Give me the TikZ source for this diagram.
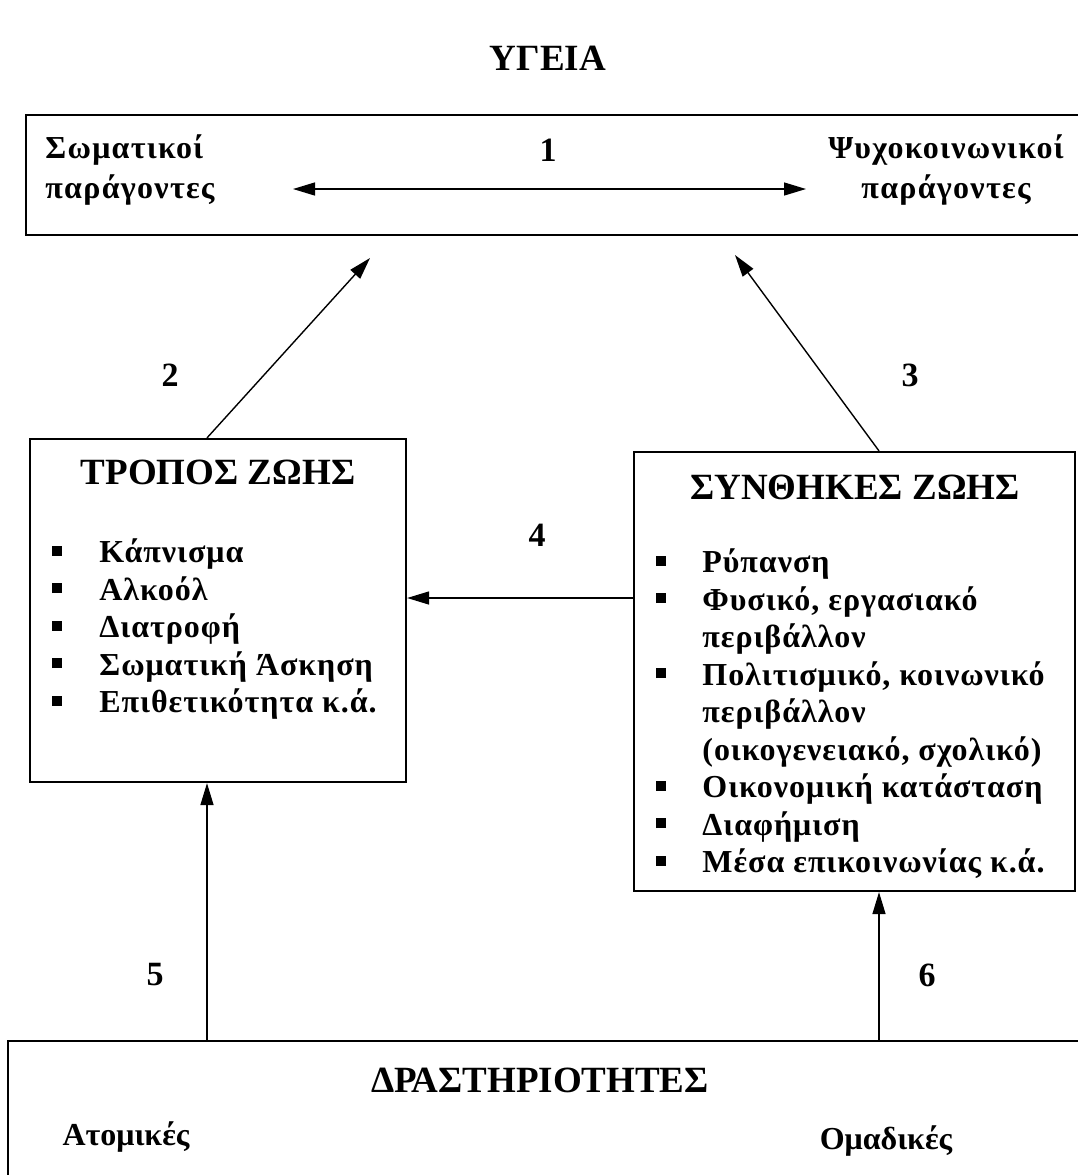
\documentclass[tikz,border=0pt]{standalone}
\usepackage{fontspec}
\setmainfont{Liberation Serif}
\usetikzlibrary{arrows.meta}

\tikzset{
	box/.style={draw, line width=1.1pt, inner sep=0pt},
	arr/.style={line width=0.7pt, >={Triangle[length=11pt,width=6.5pt]}},
	num/.style={font=\bfseries\fontsize{17}{20}\selectfont},
	head/.style={font=\bfseries\fontsize{18.5}{22}\selectfont},
	txt/.style={font=\bfseries\fontsize{16}{18.75}\selectfont\addfontfeature{LetterSpace=3}, inner sep=0pt},
	factor/.style={font=\bfseries\fontsize{16}{20}\selectfont\addfontfeature{LetterSpace=4}, inner sep=0pt},
	group/.style={font=\bfseries\fontsize{16}{19}\selectfont, inner sep=0pt},
}
\newcommand{\sqbullet}{\rule[3.5pt]{5pt}{5pt}}

\begin{document}
\begin{tikzpicture}[x=0.5pt,y=-0.5pt]
		\useasboundingbox (0,0) rectangle (1078,1175);
		\clip (0,0) rectangle (1078,1175);
		% boxes
		\node[box, minimum width=532pt, minimum height=60pt] (factors) at (558,175) {};
		\node[box, minimum width=188pt, minimum height=171.5pt] (life) at (218,610.5) {};
		\node[box, minimum width=220.5pt, minimum height=219.5pt] (cond) at (854.5,671.5) {};
		\node[box, minimum width=541pt, minimum height=74.5pt] (act) at (549,1115.5) {};
		% texts
		\node[head] (ygeia) at (548,58) {ΥΓΕΙΑ};
		\node[factor, anchor=west, align=left] (soma) at (45,170) {Σωματικοί\\παράγοντες};
		\node[factor, align=center] (psycho) at (946,170) {Ψυχοκοινωνικοί\\παράγοντες};
		\node[head] (lifetitle) at (218,472) {ΤΡΟΠΟΣ ΖΩΗΣ};
		\node[head] (condtitle) at (855,487) {ΣΥΝΘΗΚΕΣ ΖΩΗΣ};
		\node[head] (acttitle) at (540,1080) {ΔΡΑΣΤΗΡΙΟΤΗΤΕΣ};
		\node[group] (atomikes) at (126,1137) {Ατομικές};
		\node[group] (omadikes) at (886,1141) {Ομαδικές};
		\node[txt, anchor=north west] (lifelist) at (52,536) {%
			\begin{tabular}{@{}l@{\hspace{18.5pt}}l@{}}
				\sqbullet & Κάπνισμα\\
				\sqbullet & Αλκοόλ\\
				\sqbullet & Διατροφή\\
				\sqbullet & Σωματική Άσκηση\\
				\sqbullet & Επιθετικότητα κ.ά.
			\end{tabular}};
		\node[txt, anchor=north west] (condlist) at (656,546) {%
			\begin{tabular}{@{}l@{\hspace{18pt}}l@{}}
				\sqbullet & Ρύπανση\\
				\sqbullet & Φυσικό, εργασιακό\\
				& περιβάλλον\\
				\sqbullet & Πολιτισμικό, κοινωνικό\\
				& περιβάλλον\\
				& (οικογενειακό, σχολικό)\\
				\sqbullet & Οικονομική κατάσταση\\
				\sqbullet & Διαφήμιση\\
				\sqbullet & Μέσα επικοινωνίας κ.ά.
			\end{tabular}};
		% numbers
		\node[num] (n1) at (548,150) {1};
		\node[num] (n2) at (170,375) {2};
		\node[num] (n3) at (910,375) {3};
		\node[num] (n4) at (537,535) {4};
		\node[num] (n5) at (155,975) {5};
		\node[num] (n6) at (927,975) {6};
		% arrows
		\coordinate (xl) at (207,0);
		\coordinate (xr) at (879,0);
		\coordinate (y4) at (0,598);
		\coordinate (a1l) at (293,189);
		\coordinate (a1r) at (806,189);
		\coordinate (tip2) at (370,258);
		\coordinate (tip3) at (735,255);
		\draw[arr, <->] (a1l) -- (a1r);
		\draw[arr, ->] (life.north -| xl) -- (tip2);
		\draw[arr, ->] (cond.north -| xr) -- (tip3);
		\draw[arr, ->] (cond.west |- y4) -- (life.east |- y4);
		\draw[arr, ->] (act.north -| xl) -- (life.south -| xl);
		\draw[arr, ->] (act.north -| xr) -- (cond.south -| xr);
	\end{tikzpicture}
\end{document}
